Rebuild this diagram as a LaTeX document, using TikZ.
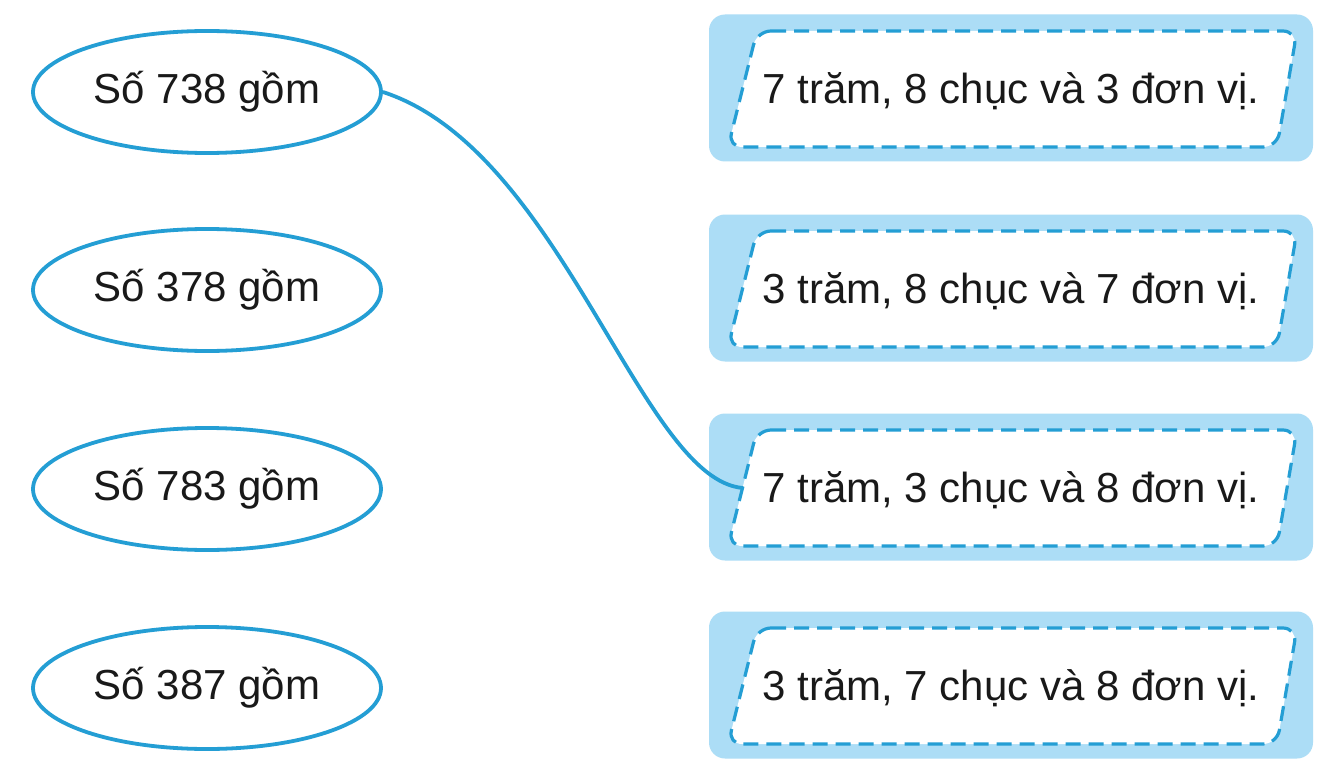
\documentclass[tikz,border=0pt]{standalone}
\usepackage{fontspec}
\setmainfont{Liberation Sans}
\usetikzlibrary{shapes.geometric}
\definecolor{lineblue}{RGB}{36,158,212}
\definecolor{boxblue}{RGB}{172,221,246}
\definecolor{txt}{RGB}{25,25,25}
\newcommand\slantbox[1]{%
  \draw[dashbox] ([shift={(-254,-57)}]#1.center) -- ([shift={(286,-57)}]#1.center)
    -- ([shift={(266,59)}]#1.center) -- ([shift={(-283,59)}]#1.center) -- cycle;
  \coordinate (#1l) at ([shift={(-268,1)}]#1.center);
  \node[boxtext] at ([yshift=-3]#1.center) {\csname boxlabel#1\endcsname};
}
\begin{document}
\begin{tikzpicture}[x=1pt,y=-1pt,
  numell/.style={ellipse, draw=lineblue, line width=3.8pt, fill=white,
    minimum width=348pt, minimum height=122pt, inner sep=0pt,
    text=txt, font=\fontsize{42}{50}\selectfont},
  outerbox/.style={rectangle, rounded corners=16pt, fill=boxblue,
    minimum width=604pt, minimum height=147pt, inner sep=0pt},
  dashbox/.style={draw=lineblue, dash pattern=on 15pt off 8pt,
    line width=3.2pt, fill=white, rounded corners=14pt},
  boxtext/.style={text=txt, font=\fontsize{42}{50}\selectfont, inner sep=0pt},
  conn/.style={draw=lineblue, line width=3.8pt}]
\useasboundingbox (0,0) rectangle (1332,770);
\fill[white] (0,0) rectangle (1332,770);

\node[numell] (e1) at (207,92) {Số 738 gồm};
\node[numell] (e2) at (207,290) {Số 378 gồm};
\node[numell] (e3) at (207,489) {Số 783 gồm};
\node[numell] (e4) at (207,688) {Số 387 gồm};

\def\boxlabelbA{7 trăm, 8 chục và 3 đơn vị.}
\def\boxlabelbB{3 trăm, 8 chục và 7 đơn vị.}
\def\boxlabelbC{7 trăm, 3 chục và 8 đơn vị.}
\def\boxlabelbD{3 trăm, 7 chục và 8 đơn vị.}

\node[outerbox] (bA) at (1011,88) {};
\node[outerbox] (bB) at (1011,288) {};
\node[outerbox] (bC) at (1011,487) {};
\node[outerbox] (bD) at (1011,685) {};
\slantbox{bA}
\slantbox{bB}
\slantbox{bC}
\slantbox{bD}

\draw[conn] (e1.east) .. controls +(179,58) and +(-102,-8) .. (bCl);
\end{tikzpicture}
\end{document}
